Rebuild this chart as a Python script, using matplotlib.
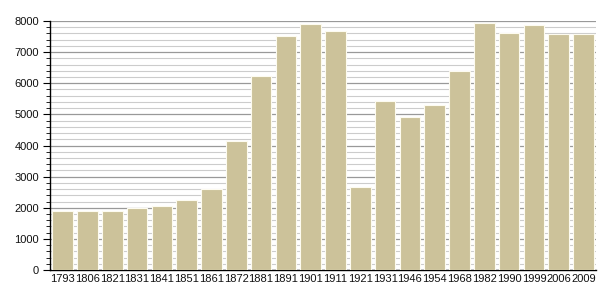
import numpy as np
import matplotlib
matplotlib.use("Agg")
import matplotlib.pyplot as plt

plt.rcParams['font.family'] = ['Liberation Sans', 'DejaVu Sans']

# population by census year
years = ['1793', '1806', '1821', '1831', '1841', '1851', '1861', '1872', '1881', '1891', '1901',
         '1911', '1921', '1931', '1946', '1954', '1968', '1982', '1990', '1999', '2006', '2009']
population = [1900, 1900, 1890, 1990, 2060, 2250, 2600, 4140, 6230, 7520, 7900,
              7670, 2680, 5420, 4920, 5300, 6390, 7940, 7600, 7860, 7580, 7580]

fig = plt.figure(figsize=(6.05, 3.0), dpi=100)
ax = fig.add_axes([0.083, 0.1, 0.902, 0.83])

x = np.arange(len(years))
ax.bar(x, population, 0.83, color='#ccc29a', edgecolor='#fdfbf0', linewidth=0.8, zorder=3)

ax.set_xlim(-0.5, len(years) - 0.5)
ax.set_ylim(0, 8000)
ax.set_yticks(np.arange(0, 8001, 1000))
ax.set_yticks(np.arange(0, 8001, 200), minor=True)
ax.set_xticks(x)
ax.set_xticklabels(years)

ax.grid(axis='y', which='major', color='#999999', linewidth=0.9, zorder=0)
ax.grid(axis='y', which='minor', color='#cccccc', linewidth=0.8, zorder=0)

for s in ['top', 'right']:
    ax.spines[s].set_visible(False)
ax.spines['left'].set_linewidth(1.0)
ax.spines['bottom'].set_linewidth(1.0)
ax.tick_params(axis='x', length=0, labelsize=8, pad=3, colors='#111111')
ax.tick_params(axis='y', which='major', length=5, labelsize=8, pad=3, labelcolor='#111111')
ax.tick_params(axis='y', which='minor', length=3)

fig.savefig('out.png', dpi=100)
